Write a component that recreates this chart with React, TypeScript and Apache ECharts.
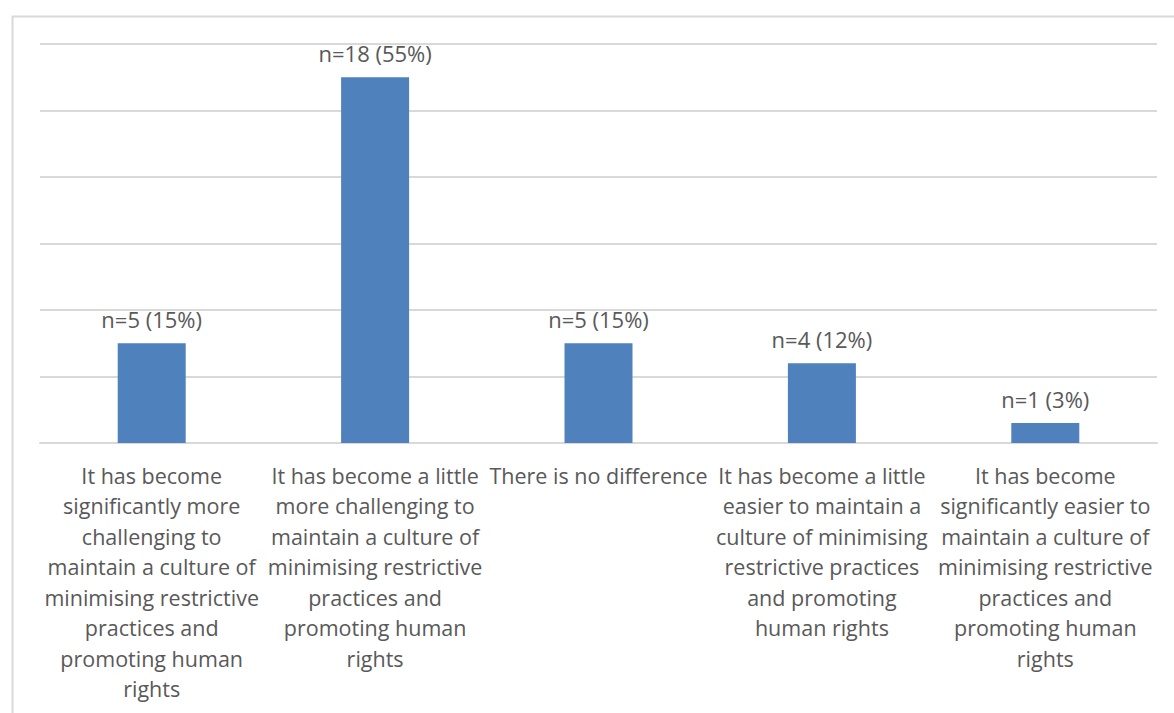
import React, { useEffect, useRef } from "react";
import * as echarts from "echarts";

// Survey responses: change in difficulty of minimising restrictive practices
const categories: string[] = [
  "It has become\nsignificantly more\nchallenging to\nmaintain a culture of\nminimising restrictive\npractices and\npromoting human\nrights",
  "It has become a little\nmore challenging to\nmaintain a culture of\nminimising restrictive\npractices and\npromoting human\nrights",
  "There is no difference",
  "It has become a little\neasier to maintain a\nculture of minimising\nrestrictive practices\nand promoting\nhuman rights",
  "It has become\nsignificantly easier to\nmaintain a culture of\nminimising restrictive\npractices and\npromoting human\nrights",
];
const counts: number[] = [5, 18, 5, 4, 1];
const percents: number[] = [15, 55, 15, 12, 3];

const FONT = "'Open Sans', Lato, sans-serif";
const TEXT = "#595959";
const LINE = "#d9d9d9";

export default function App() {
  const ref = useRef<HTMLDivElement>(null);

  useEffect(() => {
    if (!ref.current) return;
    const chart = echarts.init(ref.current, undefined, { renderer: "svg" });
    chart.setOption({
      animation: false,
      backgroundColor: "#ffffff",
      graphic: [
        {
          type: "rect",
          left: 10,
          top: 14,
          shape: { width: 1200, height: 760 },
          style: { fill: "none", stroke: LINE, lineWidth: 2 },
          silent: true,
        },
      ],
      grid: { left: 40, right: 17, top: 44, bottom: 270 },
      xAxis: {
        type: "category",
        data: categories,
        axisTick: { show: false },
        axisLine: { lineStyle: { color: LINE, width: 2 } },
        axisLabel: {
          interval: 0,
          color: TEXT,
          fontFamily: FONT,
          fontSize: 21.5,
          lineHeight: 30.5,
          margin: 17,
          align: "center",
        },
      },
      yAxis: {
        type: "value",
        min: 0,
        max: 60,
        interval: 10,
        axisLabel: { show: false },
        axisLine: { show: false },
        axisTick: { show: false },
        splitLine: { lineStyle: { color: LINE, width: 2 } },
      },
      series: [
        {
          type: "bar",
          data: percents,
          barWidth: 68,
          itemStyle: { color: "#4f81bd" },
          label: {
            show: true,
            position: "top",
            distance: 13,
            color: TEXT,
            fontFamily: FONT,
            fontSize: 22,
            formatter: (p: any) => `n=${counts[p.dataIndex]} (${percents[p.dataIndex]}%)`,
          },
        },
      ],
    });
    return () => chart.dispose();
  }, []);

  return (
    <div
      ref={ref}
      style={{ position: "fixed", left: 0, top: 0, width: 1174, height: 713 }}
    />
  );
}
